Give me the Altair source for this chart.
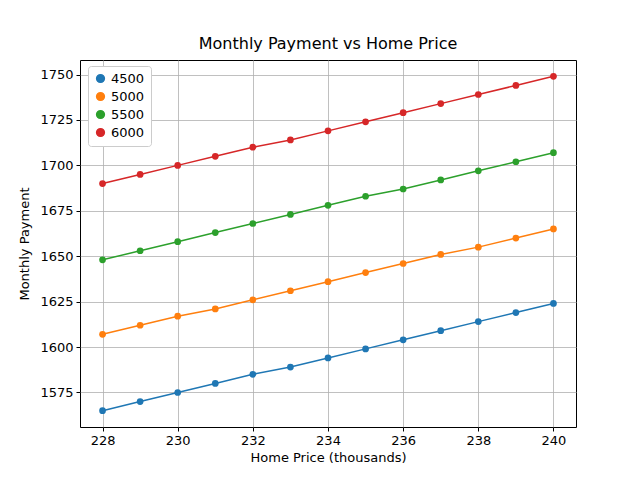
import altair as alt
import pandas as pd

prices = list(range(228, 241))
series = {
    "4500": [1565, 1570, 1575, 1580, 1585, 1589, 1594, 1599, 1604, 1609, 1614, 1619, 1624],
    "5000": [1607, 1612, 1617, 1621, 1626, 1631, 1636, 1641, 1646, 1651, 1655, 1660, 1665],
    "5500": [1648, 1653, 1658, 1663, 1668, 1673, 1678, 1683, 1687, 1692, 1697, 1702, 1707],
    "6000": [1690, 1695, 1700, 1705, 1710, 1714, 1719, 1724, 1729, 1734, 1739, 1744, 1749],
}
colors = ["#1f77b4", "#ff7f0e", "#2ca02c", "#d62728"]

rows = []
for name, vals in series.items():
    for p, v in zip(prices, vals):
        rows.append({"price": p, "payment": v, "series": name})
data = pd.DataFrame(rows)

color = alt.Color("series:N", scale=alt.Scale(domain=list(series), range=colors),
                  legend=alt.Legend(title=None, orient="none", legendX=8, legendY=6,
                                    symbolType="circle", symbolSize=60, labelFontSize=13,
                                    strokeColor="#cccccc", padding=6, fillColor="white",
                                    cornerRadius=3, rowPadding=3))
x = alt.X("price:Q", title="Home Price (thousands)",
          scale=alt.Scale(domain=[227.4, 240.6], nice=False, zero=False),
          axis=alt.Axis(values=list(range(228, 241, 2)), format="d"))
y = alt.Y("payment:Q", title="Monthly Payment",
          scale=alt.Scale(domain=[1556, 1758], nice=False, zero=False),
          axis=alt.Axis(values=list(range(1575, 1751, 25)), format="d", titlePadding=8))

base = alt.Chart(data).encode(x=x, y=y, color=color)
chart = (alt.layer(base.mark_line(strokeWidth=1.5),
                   base.mark_circle(size=45, opacity=1))
    .properties(width=496, height=367, autosize=alt.AutoSizeParams(type="none"),
                padding={"left": 72, "top": 52, "right": 56, "bottom": 45},
                title=alt.Title("Monthly Payment vs Home Price", fontSize=16,
                                fontWeight="normal", offset=8))
    .configure(font="DejaVu Sans")
    .configure_view(stroke="black", strokeWidth=1)
    .configure_axis(grid=True, gridColor="#b0b0b0", gridWidth=0.8, domain=False,
                    tickColor="black", tickSize=4, labelFontSize=13, labelColor="black",
                    titleFontSize=13, titleFontWeight="normal", titleColor="black",
                    labelPadding=3)
)
chart.save("out.html", embed_options={"renderer": "svg", "actions": False})
